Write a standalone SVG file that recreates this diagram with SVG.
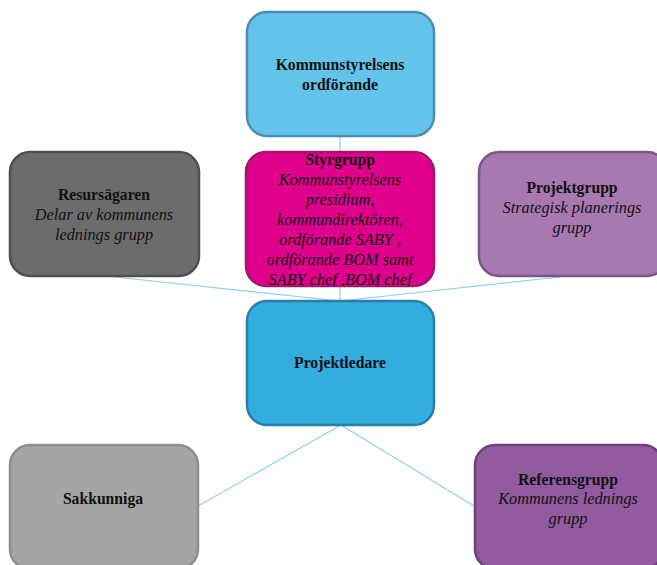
<svg xmlns="http://www.w3.org/2000/svg" width="657" height="565" viewBox="0 0 657 565">
<style>
.box{stroke-width:2.5}
.t{font-family:"Liberation Serif","Times New Roman",serif;font-size:15.7px;font-weight:bold;fill:#111;text-anchor:middle}
.i{font-family:"Liberation Serif","Times New Roman",serif;font-size:16.3px;font-style:italic;fill:#111;text-anchor:middle}
.c{stroke:#8ed1ef;stroke-width:1.2;fill:none}
</style>
<defs>
<clipPath id="clipStyr"><rect x="246" y="152" width="188" height="134" rx="20"/></clipPath>
</defs>
<rect width="657" height="565" fill="#ffffff"/>
<g id="connectors">
<line class="c" x1="340" y1="137" x2="340" y2="301"/>
<line class="c" x1="115" y1="277" x2="340" y2="301"/>
<line class="c" x1="560" y1="277" x2="340" y2="301"/>
<line class="c" x1="341" y1="425" x2="198" y2="506"/>
<line class="c" x1="341" y1="425" x2="474" y2="506"/>
</g>
<g id="kommunstyrelsens-ordforande">
<rect class="box" x="247" y="12" width="187" height="124" rx="20" fill="#64c3ea" stroke="#4b8db0"/>
<text class="t" x="340" y="70">Kommunstyrelsens</text>
<text class="t" x="340" y="90">ordförande</text>
</g>
<g id="styrgrupp">
<rect class="box" x="246" y="152" width="188" height="134" rx="20" fill="#df008b" stroke="#a3156e"/>
<g clip-path="url(#clipStyr)">
<text class="t" x="340" y="165">Styrgrupp</text>
<text class="i" x="340" y="185">Kommunstyrelsens</text>
<text class="i" x="340" y="205">presidium,</text>
<text class="i" x="340" y="225">kommundirektören,</text>
<text class="i" x="340" y="245">ordförande SABY ,</text>
<text class="i" x="340" y="265">ordförande BOM  samt</text>
<text class="i" x="340" y="285">SABY chef ,BOM chef</text>
</g>
</g>
<g id="resursagaren">
<rect class="box" x="10" y="152" width="189" height="124" rx="20" fill="#6c6c6c" stroke="#4f4f4f"/>
<text class="t" x="104" y="200">Resursägaren</text>
<text class="i" x="104" y="220">Delar av kommunens</text>
<text class="i" x="104" y="240">lednings grupp</text>
</g>
<g id="projektgrupp">
<rect class="box" x="479" y="152" width="188" height="124" rx="20" fill="#a878b1" stroke="#7c5687"/>
<text class="t" x="572" y="193">Projektgrupp</text>
<text class="i" x="572" y="213">Strategisk planerings</text>
<text class="i" x="572" y="233">grupp</text>
</g>
<g id="projektledare">
<rect class="box" x="247" y="301" width="187" height="124" rx="20" fill="#33acdf" stroke="#2a7ea8"/>
<text class="t" x="340" y="368">Projektledare</text>
</g>
<g id="sakkunniga">
<rect class="box" x="10" y="445" width="188" height="124" rx="20" fill="#a5a5a5" stroke="#8e8e8e"/>
<text class="t" x="103" y="504">Sakkunniga</text>
</g>
<g id="referensgrupp">
<rect class="box" x="475" y="445" width="188" height="124" rx="20" fill="#925a9f" stroke="#6d3f7b"/>
<text class="t" x="568" y="485">Referensgrupp</text>
<text class="i" x="568" y="504">Kommunens lednings</text>
<text class="i" x="568" y="524">grupp</text>
</g>
</svg>
